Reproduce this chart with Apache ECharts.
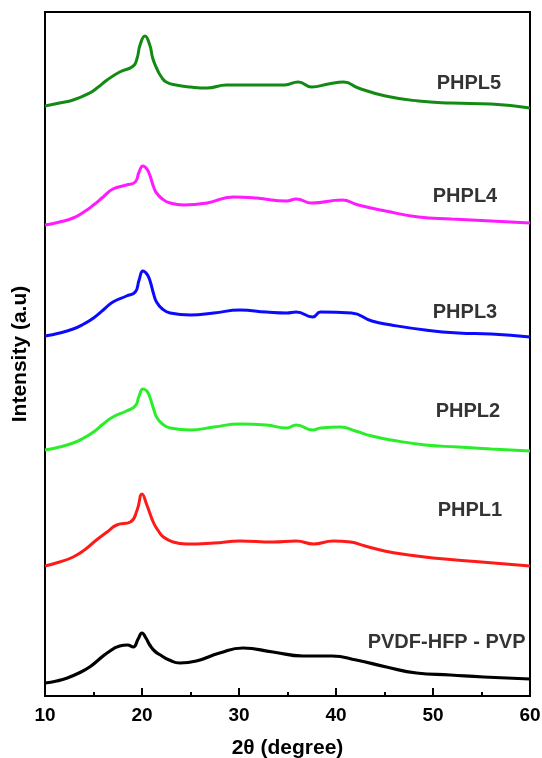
<!DOCTYPE html>
<html>
<head>
<meta charset="utf-8">
<script src="https://cdn.jsdelivr.net/npm/echarts@6/dist/echarts.min.js"></script>
<style>html,body{margin:0;padding:0;background:#fff}#c{width:542px;height:758px}</style>
</head>
<body>
<div id="c"></div>
<script>
// x tick labels
const xTicks = [10, 20, 30, 40, 50, 60];
// series names
const names = ['PVDF-HFP - PVP', 'PHPL1', 'PHPL2', 'PHPL3', 'PHPL4', 'PHPL5'];
const colors = ['#000000', '#ff1a1a', '#2bee2b', '#0a0aff', '#ff1aff', '#138a13'];

// [2theta, intensity (offset, a.u.)]
const pvdf = [[10,13],[11.2,15],[12.3,18],[13.5,23],[14.6,29],[15.5,36],[16.4,43],[17.7,50],[18.5,51],[19.1,49],[19.6,57],[20.0,63],[20.4,58],[20.8,51],[21.3,45],[21.9,41],[22.8,36],[23.9,33],[25.6,35],[28,43],[30.4,48],[33.5,44],[36.6,40],[39.6,40],[42.1,36],[45.2,29],[48.3,23],[51.8,21],[55.2,19],[60,17]];
const phpl1 = [[10,130],[11.5,134],[12.9,139],[14.2,147],[15.3,156],[16.4,164],[17.4,171],[18.8,174],[19.5,186],[20.0,202],[20.5,191],[21.2,173],[21.7,165],[22.2,159],[23.2,154],[24.6,152],[27.4,153],[30.1,155],[33.5,154],[35.9,155],[37.7,152],[39.7,155],[41.5,154],[43,150],[45,145],[47.5,141],[50,138],[55,134],[60,130]];
const phpl2 = [[10,246],[11.5,249],[12.9,253],[14,258],[15,264],[16,272],[17,279],[18.4,285],[19.3,290],[19.7,300],[20.1,307],[20.5,305],[20.8,299],[21.2,287],[21.5,279],[22.1,272],[22.9,268],[25,266],[27.4,269],[30.1,272],[32.8,271],[34.9,268],[35.9,271],[37.6,266],[38.4,268],[40.5,269],[42,265],[43.7,260],[45.7,256],[49.2,251],[52.6,249],[56,247],[60,245]];
const phpl3 = [[10,360],[11.5,363],[12.9,367],[14,372],[15,378],[16,386],[17,394],[18.4,400],[19.3,404],[19.7,416],[20.1,425],[20.5,422],[20.8,416],[21.2,402],[21.5,394],[22.1,387],[22.9,383],[25,381],[27.4,383],[30.1,386],[32.8,384],[34.9,383],[35.9,384],[37.6,379],[38.4,384],[41.6,383],[43.7,375],[45.7,371],[49.2,366],[52.6,363],[56,362],[60,359]];
const phpl4 = [[10,471],[11.5,474],[12.9,478],[14,484],[15,491],[16,499],[17,507],[18.4,511],[19.3,514],[19.7,524],[20.1,530],[20.5,527],[20.8,521],[21.2,509],[21.5,503],[22.1,497],[22.9,493],[24.3,491],[26.7,493],[29.4,499],[31.8,498],[34.9,495],[35.9,497],[37.5,493],[40.6,496],[42.3,491],[45.1,485],[48.5,479],[51.9,477],[56,475],[60,473]];
const phpl5 = [[10,590],[11.5,593],[12.9,596],[14.6,603],[15.5,609],[16.4,616],[17.7,624],[19.1,630],[19.5,638],[19.8,651],[20.3,660],[20.8,651],[21.1,638],[21.5,628],[22,619],[22.5,614],[23.5,611],[25,609],[26.7,608],[28.7,611],[31.8,611],[34.7,611],[36.1,614],[37.5,609],[39.2,612],[40.8,614],[42.3,608],[45.1,600],[48.5,595],[51.9,593],[56,592],[60,588]];
// curve label anchors [2theta, intensity, text]
const labelPts = [[51.4,54,'PVDF-HFP - PVP'],[53.8,186,'PHPL1'],[53.6,285,'PHPL2'],[53.3,384,'PHPL3'],[53.3,500,'PHPL4'],[53.7,613,'PHPL5']];

const curves = [pvdf, phpl1, phpl2, phpl3, phpl4, phpl5];
const FONT = 'Liberation Sans, Arial, sans-serif';

const series = curves.map((d, i) => ({
  type: 'line', name: names[i], data: d, showSymbol: false, symbol: 'none',
  smooth: 0.5, lineStyle: {color: colors[i], width: i === 0 ? 3.2 : 3}, z: 3
}));
series.push({
  type: 'scatter', data: labelPts, symbolSize: 1, itemStyle: {color: 'rgba(0,0,0,0)'},
  label: {show: true, position: 'inside', formatter: p => p.data[2],
    fontFamily: FONT, fontWeight: 'bold', fontSize: 20, color: '#000'},
  z: 5
});

const chart = echarts.init(document.getElementById('c'));
chart.setOption({
  animation: false,
  backgroundColor: '#fff',
  grid: {left: 45, right: 12, top: 12, bottom: 62, outerBoundsMode: 'none', containLabel: false,
    show: true, borderColor: '#000', borderWidth: 2, backgroundColor: 'transparent'},
  xAxis: {
    type: 'value', min: 10, max: 60, interval: 10,
    name: '2θ (degree)', nameLocation: 'middle', nameGap: 42,
    nameTextStyle: {fontFamily: FONT, fontWeight: 'bold', fontSize: 21, color: '#000'},
    axisLine: {lineStyle: {color: '#000', width: 2}},
    axisTick: {inside: true, length: 8, lineStyle: {color: '#000', width: 2}},
    minorTick: {show: true, splitNumber: 2, length: 4, lineStyle: {color: '#000', width: 2}},
    axisLabel: {margin: 10, fontFamily: FONT, fontWeight: 'bold', fontSize: 19, color: '#000',
      formatter: v => xTicks.indexOf(v) >= 0 ? String(v) : ''},
    splitLine: {show: false}
  },
  yAxis: {
    type: 'value', min: 0, max: 684,
    name: 'Intensity (a.u)', nameLocation: 'middle', nameGap: 14, nameRotate: 90,
    nameTextStyle: {fontFamily: FONT, fontWeight: 'bold', fontSize: 21, color: '#000'},
    axisLine: {show: false}, axisTick: {show: false}, axisLabel: {show: false}, splitLine: {show: false}
  },
  series: series
});
</script>
</body>
</html>
